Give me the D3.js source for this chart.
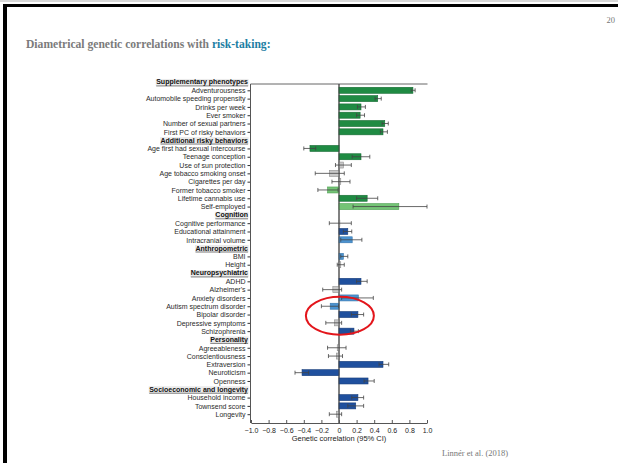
<!DOCTYPE html>
<html><head><meta charset="utf-8">
<script src="https://cdn.jsdelivr.net/npm/d3@7"></script>
<style>
html,body{margin:0;padding:0;background:#fff;}
svg{display:block;}
</style></head>
<body>
<svg id="c" width="618" height="463"></svg>
<script>
// ---- data ----
const rowLabels = [
  "Supplementary phenotypes","Adventurousness","Automobile speeding propensity","Drinks per week","Ever smoker",
  "Number of sexual partners","First PC of risky behaviors",
  "Additional risky behaviors","Age first had sexual intercourse","Teenage conception","Use of sun protection",
  "Age tobacco smoking onset","Cigarettes per day","Former tobacco smoker","Lifetime cannabis use","Self-employed",
  "Cognition","Cognitive performance","Educational attainment","Intracranial volume",
  "Anthropometric","BMI","Height",
  "Neuropsychiatric","ADHD","Alzheimer's","Anxiety disorders","Autism spectrum disorder","Bipolar disorder",
  "Depressive symptoms","Schizophrenia",
  "Personality","Agreeableness","Conscientiousness","Extraversion","Neuroticism","Openness",
  "Socioeconomic and longevity","Household income","Townsend score","Longevity"
];
const headerLabels = ["Supplementary phenotypes","Additional risky behaviors","Cognition","Anthropometric",
  "Neuropsychiatric","Personality","Socioeconomic and longevity"];
// genetic correlation per row (null for headers)
const rg = [null,0.84,0.44,0.25,0.24,0.52,0.50,
  null,-0.33,0.25,0.05,-0.11,0.02,-0.13,0.32,0.68,
  null,0.01,0.10,0.15,
  null,0.05,0.02,
  null,0.25,-0.07,0.22,-0.10,0.215,-0.05,0.17,
  null,-0.02,-0.03,0.50,-0.42,0.33,
  null,0.215,0.19,-0.03];
const ciLow = [null,0.82,0.41,0.21,0.20,0.49,0.47,
  null,-0.40,0.15,-0.04,-0.27,-0.08,-0.24,0.20,0.16,
  null,-0.11,0.05,0.02,
  null,0.02,-0.02,
  null,0.20,-0.185,0.03,-0.20,0.14,-0.15,0.13,
  null,-0.13,-0.12,0.455,-0.50,0.285,
  null,0.145,0.10,-0.11];
const ciHigh = [null,0.865,0.48,0.30,0.29,0.56,0.55,
  null,-0.265,0.35,0.14,0.06,0.125,-0.01,0.44,1.0,
  null,0.14,0.145,0.26,
  null,0.10,0.06,
  null,0.32,0.03,0.39,-0.005,0.28,0.03,0.22,
  null,0.08,0.04,0.565,-0.345,0.40,
  null,0.28,0.28,0.03];
// significance class: dg/db = strong, lg/lb = nominal, gr = not significant
const sigClass = [null,"dg","dg","dg","dg","dg","dg",
  null,"dg","dg","gr","gr","gr","lg","dg","lg",
  null,"gr","db","lb",
  null,"lb","gr",
  null,"db","gr","lb","lb","db","gr","db",
  null,"gr","gr","db","db","db",
  null,"db","db","gr"];
const xTicks = [-1.0,-0.8,-0.6,-0.4,-0.2,0,0.2,0.4,0.6,0.8,1.0];

// ---- styles ----
const fills = {dg:"#1f8b43", lg:"#74c476", gr:"#c9c9c9", db:"#1f509e", lb:"#4b93d1"};
const strokes = {dg:"#176b33", lg:"#4fa052", gr:"#8f8f8f", db:"#173d7a", lb:"#3474ab"};

const svg = d3.select("#c");

// slide frame
svg.append("rect").attr("x",0).attr("y",0).attr("width",618).attr("height",2).attr("fill","#d8d8d8");
svg.append("rect").attr("x",3).attr("y",4).attr("width",615).attr("height",3).attr("fill","#000");
svg.append("rect").attr("x",3).attr("y",4).attr("width",4).attr("height",459).attr("fill","#000");

// page number
svg.append("text").attr("x",615).attr("y",23).attr("text-anchor","end")
  .attr("font-family","Liberation Serif").attr("font-size",8.5).attr("fill","#777").text("20");

// title
const title = svg.append("text").attr("x",26).attr("y",48)
  .attr("font-family","Liberation Serif").attr("font-weight","bold").attr("font-size",11.6);
title.append("tspan").attr("fill","#7b7b7b").text("Diametrical genetic correlations with ");
title.append("tspan").attr("fill","#1d7ea3").text("risk-taking:");

// source
svg.append("text").attr("x",442).attr("y",456)
  .attr("font-family","Liberation Serif").attr("font-size",8.5).attr("fill","#777").text("Linnér et al. (2018)");

// ---- chart ----
const x = d3.scaleLinear().domain([-1,1]).range([251,427]);
const idx = d3.range(rowLabels.length);
const y = d3.scalePoint().domain(idx).range([82,414.2]);
const frameTop = 84, frameBottom = 423;
const barH = 6;
const g = svg.append("g").attr("font-family","Liberation Sans");

// frame lines
g.append("line").attr("x1",x(-1)-0.5).attr("x2",x(1)+0.5).attr("y1",frameTop).attr("y2",frameTop).attr("stroke","#666").attr("stroke-width",1);
g.append("line").attr("x1",x(0)).attr("x2",x(0)).attr("y1",frameTop).attr("y2",frameBottom).attr("stroke","#555").attr("stroke-width",1);

// bars
const dataRows = idx.filter(i => rg[i] !== null);
g.selectAll("rect.bar").data(dataRows).join("rect").attr("class","bar")
  .attr("x", i => x(Math.min(0, rg[i])))
  .attr("width", i => Math.abs(x(rg[i]) - x(0)))
  .attr("y", i => y(i) - barH/2).attr("height", barH)
  .attr("fill", i => fills[sigClass[i]])
  .attr("stroke", i => strokes[sigClass[i]]).attr("stroke-width",0.6);

// error bars
const eb = g.selectAll("g.eb").data(dataRows).join("g").attr("class","eb")
  .attr("stroke","#444").attr("stroke-width",0.8);
eb.append("line").attr("x1", i => x(ciLow[i])).attr("x2", i => x(ciHigh[i])).attr("y1", i => y(i)).attr("y2", i => y(i));
eb.append("line").attr("x1", i => x(ciLow[i])).attr("x2", i => x(ciLow[i])).attr("y1", i => y(i)-2).attr("y2", i => y(i)+2);
eb.append("line").attr("x1", i => x(ciHigh[i])).attr("x2", i => x(ciHigh[i])).attr("y1", i => y(i)-2).attr("y2", i => y(i)+2);

// re-draw zero line over bars (thin)
g.append("line").attr("x1",x(0)).attr("x2",x(0)).attr("y1",frameTop).attr("y2",frameBottom).attr("stroke","#444").attr("stroke-width",0.8);

// y axis
const yAxis = d3.axisLeft(y).tickValues(dataRows).tickSize(3).tickPadding(2)
  .tickFormat(i => rowLabels[i]);
const ya = g.append("g").attr("transform",`translate(${x(-1)-0.5},0)`).call(yAxis);
ya.select(".domain").remove();
ya.selectAll("text").attr("font-size",7).attr("fill","#2a2a2a").attr("font-family","Liberation Sans");
ya.selectAll("line").attr("stroke","#333");
g.append("line").attr("x1",x(-1)-0.5).attr("x2",x(-1)-0.5).attr("y1",frameTop).attr("y2",frameBottom).attr("stroke","#555").attr("stroke-width",1);

// header labels
const headerRows = idx.filter(i => headerLabels.includes(rowLabels[i]));
const hdr = g.selectAll("g.hdr").data(headerRows).join("g").attr("class","hdr");
hdr.append("text").attr("x", x(-1)-3).attr("y", i => y(i)).attr("dy","0.35em")
  .attr("text-anchor","end").attr("font-size",7).attr("font-weight","bold").attr("fill","#111")
  .text(i => rowLabels[i]);
hdr.each(function(){
  const t = d3.select(this).select("text");
  const bb = t.node().getBBox();
  d3.select(this).insert("rect","text").attr("x",bb.x-0.5).attr("y",bb.y+0.5).attr("width",bb.width+1).attr("height",bb.height-1).attr("fill","#ebebeb");
  d3.select(this).append("line").attr("x1",bb.x).attr("x2",bb.x+bb.width).attr("y1",bb.y+bb.height-0.5).attr("y2",bb.y+bb.height-0.5).attr("stroke","#333").attr("stroke-width",0.6);
});

// x axis
const xAxis = d3.axisBottom(x).tickValues(xTicks).tickSize(-3).tickSizeOuter(0).tickPadding(5)
  .tickFormat(d => d === 0 ? "0" : d3.format(".1f")(d));
const xa = g.append("g").attr("transform",`translate(0,${frameBottom})`).call(xAxis);
xa.select(".domain").attr("stroke","#555");
xa.selectAll("line").attr("stroke","#555");
xa.selectAll("text").attr("font-size",7).attr("fill","#222").attr("font-family","Liberation Sans");
g.append("text").attr("x",x(0)).attr("y",441).attr("text-anchor","middle").attr("font-size",7.5).attr("fill","#222")
  .text("Genetic correlation (95% CI)");

// highlight ellipse
const ell = {cx: x(0.01), cy: (y(27)+y(30))/2 - 3, rx: 34, ry: 19};
svg.append("ellipse").attr("cx",ell.cx).attr("cy",ell.cy).attr("rx",ell.rx).attr("ry",ell.ry)
  .attr("fill","none").attr("stroke","#e3151b").attr("stroke-width",2);
</script>
</body></html>
